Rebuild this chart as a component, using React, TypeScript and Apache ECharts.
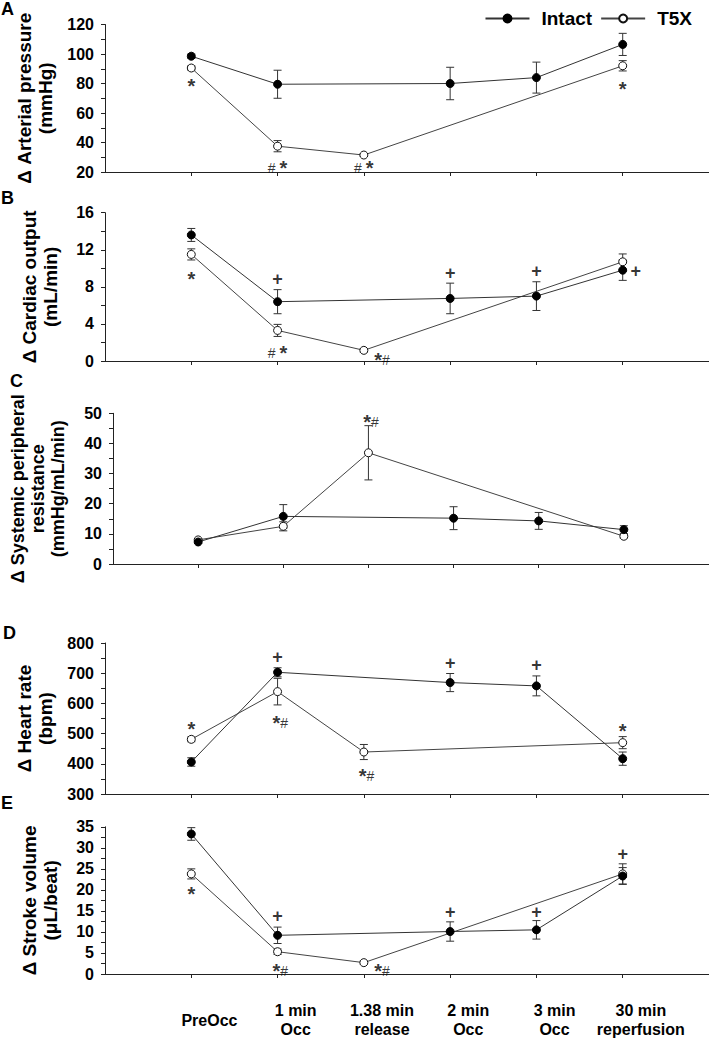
import React, { useEffect, useRef } from "react";
import * as echarts from "echarts";

// ---- categories / ticks ----
const xLabels = ["PreOcc", "1 min\nOcc", "1.38 min\nrelease", "2 min\nOcc", "3 min\nOcc", "30 min\nreperfusion"];
const xTickValues = [0, 1, 2, 3, 4, 5];

// ---- A: arterial pressure ----
const apIntact = [98.5, 79.5, null, 80, 84, 106.5];
const apIntactErr = [1.5, 9.5, null, 11, 10.5, 7.5];
const apT5X = [90.5, 37.5, 31.5, null, null, 92];
const apT5XErr = [1.5, 3.8, 1, null, null, 3.5];
const apAnn = [[0, 82, "*"], [1, 26, "# *"], [2, 26, "# *"], [5, 80, "*"]];

// ---- B: cardiac output ----
const coIntact = [13.6, 6.4, null, 6.75, 7.0, 9.8];
const coIntactErr = [0.7, 1.3, null, 1.65, 1.55, 1.1];
const coT5X = [11.5, 3.3, 1.15, null, null, 10.7];
const coT5XErr = [0.6, 0.65, 0.2, null, null, 0.85];
const coAnn = [[0, 9.35, "*"], [1, 8.8, "+"], [1, 1.35, "# *"], [2.21, 0.65, "*#"], [3, 9.45, "+"], [4, 9.7, "+"], [5.15, 9.7, "+"]];

// ---- C: systemic peripheral resistance ----
const sprIntact = [7.3, 15.8, null, 15.2, 14.3, 11.4];
const sprIntactErr = [0.5, 3.9, null, 3.8, 2.8, 1.3];
const sprT5X = [8.0, 12.5, 36.9, null, null, 9.2];
const sprT5XErr = [0.5, 1.5, 9, null, null, 0.6];
const sprAnn = [[2.03, 48.9, "*#"]];

// ---- D: heart rate ----
const hrIntact = [406, 703, null, 669, 658, 417];
const hrIntactErr = [14, 15, null, 30, 33, 22];
const hrT5X = [481, 639, 439, null, null, 470];
const hrT5XErr = [8, 44, 25, null, null, 20];
const hrAnn = [[0, 533, "*"], [1, 752, "+"], [1.03, 553, "*#"], [2.03, 375, "*#"], [3, 733, "+"], [4, 726, "+"], [5, 526, "*"]];

// ---- E: stroke volume ----
const svIntact = [33.3, 9.2, null, 10.1, 10.5, 23.3];
const svIntactErr = [1.5, 1.95, null, 2.3, 2.2, 2.0];
const svT5X = [23.8, 5.3, 2.7, null, null, 23.8];
const svT5XErr = [1.2, 0.65, 0.4, null, null, 2.4];
const svAnn = [[0, 20.2, "*"], [1, 13.7, "+"], [1.03, 1.8, "*#"], [2.21, 1.8, "*#"], [3, 14.7, "+"], [4, 14.7, "+"], [5, 28.5, "+"]];

const panels = [
  { letter: "A", name: "Δ Arterial pressure\n(mmHg)", min: 20, max: 120, interval: 20, top: 24.5, height: 147.5,
    intact: apIntact, intactErr: apIntactErr, t5x: apT5X, t5xErr: apT5XErr, ann: apAnn, lx: 1, ly: 0 },
  { letter: "B", name: "Δ Cardiac output\n(mL/min)", min: 0, max: 16, interval: 4, top: 212.7, height: 148.3,
    intact: coIntact, intactErr: coIntactErr, t5x: coT5X, t5xErr: coT5XErr, ann: coAnn, lx: 1, ly: 189 },
  { letter: "C", name: "Δ Systemic peripheral\nresistance\n(mmHg/mL/min)", min: 0, max: 50, interval: 10, top: 413.3, height: 150.7,
    intact: sprIntact, intactErr: sprIntactErr, t5x: sprT5X, t5xErr: sprT5XErr, ann: sprAnn, lx: 10, ly: 372, lh: 20, fs: 18 },
  { letter: "D", name: "Δ Heart rate\n(bpm)", min: 300, max: 800, interval: 100, top: 643, height: 151,
    intact: hrIntact, intactErr: hrIntactErr, t5x: hrT5X, t5xErr: hrT5XErr, ann: hrAnn, lx: 3, ly: 624 },
  { letter: "E", name: "Δ Stroke volume\n(μL/beat)", min: 0, max: 35, interval: 5, top: 826.8, height: 150.5,
    intact: svIntact, intactErr: svIntactErr, t5x: svT5X, t5xErr: svT5XErr, ann: svAnn, lx: 1, ly: 794 },
];

const FONT = "'Liberation Sans', Arial, Helvetica, sans-serif";
const AXIS_COLOR = "#222";
const LABEL_SHIFT = 0.21; // x-tick labels sit slightly right of their ticks

function pairs(vals: (number | null)[]) {
  const out: number[][] = [];
  vals.forEach((v, i) => { if (v != null) out.push([i, v]); });
  return out;
}
function errTriples(vals: (number | null)[], errs: (number | null)[]) {
  const out: number[][] = [];
  vals.forEach((v, i) => { if (v != null && errs[i] != null) out.push([i, v, errs[i] as number]); });
  return out;
}
function annText(s: string) {
  return s.split("").map((ch) => {
    if (ch === "*") return "{s|*}";
    if (ch === "#") return "{h|#}";
    if (ch === "+") return "{p|+}";
    if (ch === " ") return "{h| }";
    return ch;
  }).join("");
}
function annItems(ann: any[]) {
  return ann.map((a) => ({
    value: a,
    label: { offset: [0, String(a[2]).includes("*") ? 5 : 0] },
  }));
}

const errRender = (params: any, api: any) => {
  const x = api.value(0), y = api.value(1), e = api.value(2);
  const t = api.coord([x, y + e]);
  const b = api.coord([x, y - e]);
  const cw = 4;
  const style = { stroke: "#333", lineWidth: 1, fill: "none" };
  return {
    type: "group",
    children: [
      { type: "line", shape: { x1: t[0], y1: t[1], x2: b[0], y2: b[1] }, style },
      { type: "line", shape: { x1: t[0] - cw, y1: t[1], x2: t[0] + cw, y2: t[1] }, style },
      { type: "line", shape: { x1: b[0] - cw, y1: b[1], x2: b[0] + cw, y2: b[1] }, style },
    ],
  };
};

export default function App() {
  const ref = useRef<HTMLDivElement>(null);
  useEffect(() => {
    document.body.style.margin = "0";
    if (!ref.current) return;
    const chart = echarts.init(ref.current, undefined, { renderer: "svg" });
    const grid: any[] = [], xAxis: any[] = [], yAxis: any[] = [], series: any[] = [], graphic: any[] = [];
    panels.forEach((p, i) => {
      grid.push({ left: 105, right: 0, top: p.top, height: p.height, containLabel: false });
      xAxis.push({
        type: "value", gridIndex: i, min: -1, max: 6, position: "bottom",
        axisLine: { show: true, onZero: false, lineStyle: { color: AXIS_COLOR, width: 1 } },
        axisTick: { show: true, customValues: xTickValues, length: 4, lineStyle: { color: AXIS_COLOR } },
        splitLine: { show: false },
        axisLabel: { show: false },
      });
      yAxis.push({
        type: "value", gridIndex: i, min: p.min, max: p.max, interval: p.interval,
        name: p.name, nameLocation: "middle", nameGap: p.lh ? 45 : 44,
        nameTextStyle: { fontFamily: FONT, fontWeight: "bold", fontSize: p.fs ?? 19, lineHeight: p.lh ?? 21, color: "#000" },
        axisLine: { show: true, onZero: false, lineStyle: { color: AXIS_COLOR, width: 1 } },
        axisTick: { show: true, length: 4, lineStyle: { color: AXIS_COLOR } },
        minorTick: { show: true, splitNumber: 2, length: 4, lineStyle: { color: AXIS_COLOR } },
        splitLine: { show: false },
        axisLabel: { fontFamily: FONT, fontWeight: "bold", fontSize: 16, color: "#000", margin: 11 },
      });
      series.push({
        type: "custom", name: "errT5X" + i, xAxisIndex: i, yAxisIndex: i, z: 1,
        renderItem: errRender, encode: { x: 0, y: 1 }, data: errTriples(p.t5x, p.t5xErr), silent: true,
      });
      series.push({
        type: "custom", name: "errIntact" + i, xAxisIndex: i, yAxisIndex: i, z: 1,
        renderItem: errRender, encode: { x: 0, y: 1 }, data: errTriples(p.intact, p.intactErr), silent: true,
      });
      series.push({
        type: "line", name: "T5X", xAxisIndex: i, yAxisIndex: i, z: 3,
        data: pairs(p.t5x), symbol: "circle", symbolSize: 8,
        itemStyle: { color: "#fff", borderColor: "#111", borderWidth: 1 },
        lineStyle: { color: "#444", width: 1 },
      });
      series.push({
        type: "line", name: "Intact", xAxisIndex: i, yAxisIndex: i, z: 4,
        data: pairs(p.intact), symbol: "circle", symbolSize: 8,
        itemStyle: { color: "#000", borderColor: "#000", borderWidth: 1 },
        lineStyle: { color: "#333", width: 1 },
      });
      series.push({
        type: "scatter", name: "ann" + i, xAxisIndex: i, yAxisIndex: i, z: 5, silent: true,
        data: annItems(p.ann), symbolSize: 0,
        label: {
          show: true, position: "inside",
          formatter: (q: any) => annText(q.value[2]),
          rich: {
            s: { fontFamily: FONT, fontWeight: "bold", fontSize: 20, color: "#000" },
            h: { fontFamily: FONT, fontSize: 14, color: "#000" },
            p: { fontFamily: FONT, fontWeight: "bold", fontSize: 18, color: "#000" },
          },
        },
      });
      graphic.push({
        type: "text", left: p.lx, top: p.ly,
        style: { text: p.letter, font: `bold 18px ${FONT}`, fill: "#000" },
      });
    });
    // category labels under the bottom panel
    xAxis.push({
      type: "value", gridIndex: panels.length - 1, min: -1, max: 6, position: "bottom", offset: 0,
      axisLine: { show: false, onZero: false }, axisTick: { show: false }, splitLine: { show: false },
      axisLabel: {
        show: true, customValues: xTickValues.map((v) => v + LABEL_SHIFT), showMinLabel: true, showMaxLabel: true,
        formatter: (v: number) => xLabels[Math.round(v - LABEL_SHIFT)] ?? "",
        fontFamily: FONT, fontWeight: "bold", fontSize: 16, lineHeight: 19, color: "#000",
        margin: 46, verticalAlign: "middle", align: "center",
      },
    });
    chart.setOption({
      animation: false,
      backgroundColor: "#fff",
      legend: {
        data: ["Intact", "T5X"], right: 12, top: 4, itemWidth: 44, itemHeight: 10, itemGap: 8,
        textStyle: { fontFamily: FONT, fontWeight: "bold", fontSize: 19, color: "#000", padding: [0, 0, 0, 7] },
      },
      grid, xAxis, yAxis, series, graphic,
    });
    return () => chart.dispose();
  }, []);
  return <div ref={ref} style={{ position: "absolute", left: 0, top: 0, width: 709, height: 1039 }} />;
}
